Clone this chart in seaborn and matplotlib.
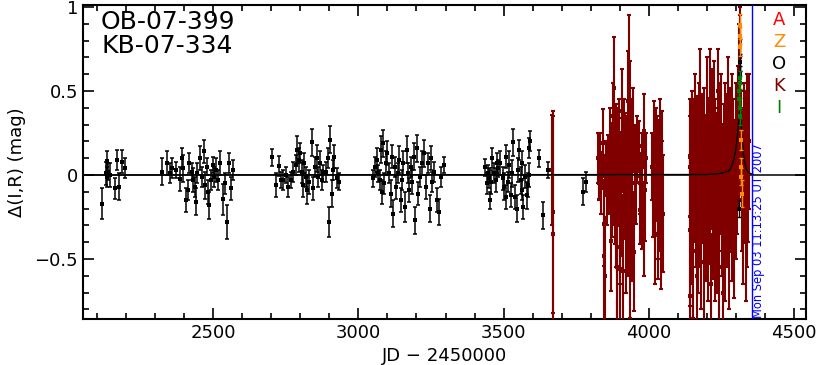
import pandas as pd
import seaborn as sns
import matplotlib
matplotlib.use("Agg")
import matplotlib.pyplot as plt
from matplotlib.ticker import MultipleLocator, FuncFormatter

# ---- OGLE (O, black) baseline seasons ----
ogle_jd = [2116, 2130, 2133, 2136, 2139, 2145, 2162, 2170, 2176, 2185, 2197,
           2325, 2342, 2352, 2360, 2372, 2386, 2392, 2397, 2407, 2412, 2418, 2426, 2432, 2437,
           2441, 2445, 2455, 2460, 2468, 2472, 2478, 2483, 2487, 2491, 2498, 2503, 2510, 2518,
           2524, 2533, 2541, 2547, 2556, 2563, 2567,
           2702, 2715, 2728, 2733, 2742, 2751, 2759, 2767, 2776, 2785, 2790, 2794, 2799, 2805,
           2810, 2814, 2820, 2824, 2831, 2839, 2845, 2851, 2856, 2862, 2868, 2874, 2879, 2887,
           2897, 2900, 2904, 2908, 2914, 2916, 2927, 2934,
           3050, 3057, 3063, 3069, 3075, 3077, 3081, 3084, 3088, 3095, 3099, 3104, 3111, 3116,
           3120, 3125, 3130, 3135, 3141, 3146, 3150, 3155, 3161, 3166, 3170, 3175, 3181, 3186,
           3191, 3196, 3201, 3205, 3212, 3219, 3226, 3232, 3241, 3245, 3250, 3255, 3260, 3272,
           3278, 3283, 3295,
           3436, 3442, 3447, 3451, 3453, 3457, 3461, 3467, 3474, 3476, 3482, 3488, 3497, 3503,
           3507, 3509, 3514, 3520, 3525, 3529, 3534, 3539, 3545, 3549, 3554, 3559, 3562, 3565,
           3568, 3574, 3580, 3583, 3587, 3589, 3591, 3623, 3637, 3654, 3775, 3784]
ogle_dmag = [-0.17, 0.01, 0.085, -0.01, 0.02, 0.0, -0.08, 0.09, -0.07, 0.08, 0.04,
             0.02, 0.07, 0.01, 0.04, 0.03, -0.025, 0.10, 0.04, -0.15, -0.09, 0.07, 0.02, -0.03, -0.07,
             -0.16, 0.01, 0.10, -0.01, 0.14, -0.06, 0.05, -0.10, -0.18, -0.03, 0.06, -0.01, 0.03, -0.03,
             0.07, -0.145, -0.05, -0.28, 0.07, -0.08, 0.03,
             0.105, -0.06, 0.054, -0.03, -0.03, 0.0, -0.07, -0.03, 0.02, 0.06, 0.15, 0.09, 0.13, 0.02,
             -0.06, 0.07, -0.01, -0.09, -0.04, 0.195, -0.08, 0.05, 0.10, -0.01, 0.07, -0.03, 0.01, 0.02,
             0.10, -0.28, 0.21, -0.11, 0.03, 0.11, -0.02, -0.04,
             -0.02, 0.05, 0.09, 0.01, -0.03, 0.15, -0.10, 0.19, -0.05, 0.07, 0.13, 0.01, -0.11, 0.11,
             -0.23, 0.05, -0.07, 0.01, 0.09, -0.15, -0.03, 0.07, -0.19, 0.15, 0.01, -0.09, 0.05, -0.04,
             0.11, -0.27, 0.16, -0.11, -0.01, 0.07, 0.13, -0.07, 0.07, -0.20, 0.10, -0.04, 0.02, -0.15,
             -0.22, -0.01, 0.06,
             0.045, -0.05, 0.01, -0.02, -0.15, -0.04, 0.10, 0.01, -0.03, 0.07, 0.04, 0.07, -0.02, -0.07,
             -0.13, 0.11, -0.04, 0.06, -0.12, 0.01, 0.195, -0.13, -0.20, 0.03, 0.15, -0.03, -0.09, 0.07,
             -0.19, -0.01, -0.12, -0.06, 0.16, 0.0, 0.20, 0.10, -0.24, 0.03, -0.10, -0.04]
ogle_err = [0.09, 0.07, 0.06, 0.06, 0.05, 0.07, 0.06, 0.06, 0.08, 0.07, 0.06,
            0.08, 0.07, 0.06, 0.06, 0.05, 0.07, 0.06, 0.08, 0.07, 0.06, 0.06, 0.05, 0.07, 0.06,
            0.08, 0.06, 0.07, 0.06, 0.07, 0.08, 0.05, 0.07, 0.08, 0.06, 0.05, 0.06, 0.07, 0.06,
            0.07, 0.09, 0.06, 0.10, 0.06, 0.07, 0.06,
            0.05, 0.07, 0.06, 0.05, 0.06, 0.05, 0.06, 0.05, 0.06, 0.06, 0.08, 0.07, 0.06, 0.07,
            0.07, 0.06, 0.06, 0.08, 0.07, 0.08, 0.07, 0.06, 0.08, 0.06, 0.07, 0.06, 0.05, 0.06,
            0.06, 0.09, 0.08, 0.08, 0.06, 0.07, 0.06, 0.05,
            0.05, 0.06, 0.07, 0.05, 0.06, 0.08, 0.07, 0.08, 0.06, 0.07, 0.07, 0.06, 0.08, 0.07,
            0.08, 0.06, 0.07, 0.06, 0.08, 0.07, 0.06, 0.07, 0.09, 0.08, 0.06, 0.07, 0.06, 0.07,
            0.08, 0.08, 0.08, 0.07, 0.06, 0.07, 0.08, 0.07, 0.06, 0.08, 0.07, 0.06, 0.06, 0.07,
            0.08, 0.06, 0.05,
            0.05, 0.06, 0.05, 0.06, 0.05, 0.07, 0.06, 0.06, 0.07, 0.06, 0.05, 0.07, 0.07, 0.08,
            0.07, 0.07, 0.06, 0.08, 0.07, 0.08, 0.08, 0.07, 0.08, 0.07, 0.06, 0.08, 0.06, 0.07,
            0.07, 0.07, 0.08, 0.07, 0.06, 0.07, 0.06, 0.05, 0.08, 0.05, 0.08, 0.06]

# OGLE points over the peak
ogle_peak_jd = [4312, 4313, 4314, 4315]
ogle_peak_dmag = [-0.20, 0.76, 0.67, 0.60]
ogle_peak_err = [0.05, 0.05, 0.05, 0.05]

# ---- K (dark red) seasons ----
kb_jd = [3668, 3669, 3670,
         3826, 3828, 3830, 3830, 3833, 3835, 3838, 3842, 3844, 3846, 3848, 3850, 3853, 3856,
         3860, 3863, 3866, 3869, 3870, 3872, 3874, 3876, 3878, 3880, 3882, 3884, 3886, 3888,
         3889, 3891, 3892, 3895, 3897, 3899, 3901, 3903, 3905, 3907, 3909, 3910, 3913, 3915,
         3918, 3920, 3922, 3924, 3926, 3927, 3929, 3931, 3933, 3935, 3936, 3937, 3939, 3941,
         3943, 3946, 3949, 3952, 3956, 3960, 3966, 3968, 3970, 3975, 3978, 3983, 3983, 3987,
         3990, 4012, 4015, 4018, 4020, 4021, 4021, 4024, 4027, 4030, 4033, 4035, 4038, 4040,
         4042, 4044, 4046, 4048,
         4140, 4140, 4140, 4143, 4145, 4147, 4149, 4151, 4153, 4155, 4157, 4159, 4161, 4163,
         4165, 4167, 4169, 4171, 4173, 4175, 4177, 4179, 4181, 4183, 4185, 4187, 4189, 4191,
         4193, 4195, 4197, 4199, 4201, 4203, 4205, 4207, 4209, 4211, 4213, 4215, 4217, 4219,
         4221, 4223, 4225, 4227, 4229, 4231, 4233, 4235, 4237, 4239, 4241, 4243, 4245, 4247,
         4249, 4251, 4253, 4255, 4257, 4259, 4261, 4263, 4265, 4267, 4269, 4271, 4273, 4275,
         4277, 4279, 4281, 4283, 4285, 4287, 4289, 4291, 4293, 4295, 4297, 4299, 4301, 4303,
         4305, 4307, 4309, 4311, 4313, 4315, 4317, 4319, 4321, 4323, 4325, 4327, 4329, 4331,
         4333, 4335, 4337, 4339, 4341, 4343, 4346]
kb_dmag = [0.03, -0.22, -0.35,
           0.10, -0.02, 0.06, -0.05, 0.13, -0.08, 0.02, 0.19, -0.29, -0.48, -0.60, 0.00, 0.05, -0.12,
           0.10, -0.03, 0.22, -0.39, 0.05, 0.13, -0.15, 0.35, -0.05, 0.52, 0.08, -0.11, 0.20, -0.25,
           -0.43, 0.15, -0.55, -0.02, 0.25, -0.30, -0.56, 0.05, -0.18, 0.38, 0.12, -0.57, -0.08, 0.20,
           0.09, -0.35, 0.00, -0.09, 0.15, 0.44, -0.20, 0.05, 0.65, 0.33, -0.40, 0.03, 0.20, -0.23,
           -0.05, 0.27, -0.46, 0.10, -0.01, 0.15, 0.17, -0.05, -0.21, -0.19, 0.05, 0.26, -0.32, -0.09,
           0.10, 0.05, -0.12, 0.19, -0.05, -0.11, -0.35, 0.12, 0.05, -0.20, -0.27, 0.08, -0.15, 0.25,
           -0.38, 0.10, -0.05, -0.23,
           0.105, -0.33, -0.72, 0.05, -0.10, 0.20, -0.25, 0.02, -0.45, 0.15, -0.05, 0.30, -0.15, 0.08,
           -0.60, 0.12, -0.30, 0.25, -0.02, -0.20, 0.40, 0.05, -0.40, 0.18, -0.08, 0.00, -0.52, 0.22,
           -0.12, 0.10, -0.28, 0.35, -0.05, 0.15, -0.35, 0.05, 0.45, -0.18, 0.12, -0.65, 0.28, -0.02,
           -0.22, 0.08, 0.38, -0.40, 0.15, -0.10, 0.02, -0.30, 0.50, 0.10, -0.15, -0.55, 0.20, -0.05,
           0.30, -0.25, 0.05, -0.70, 0.12, -0.12, 0.25, -0.35, 0.00, 0.18, -0.20, 0.40, -0.08, 0.10,
           -0.45, 0.22, -0.15, 0.05, -0.28, 0.30, -0.02, 0.15, -0.38, 0.08, -0.10, 0.25, -0.20, 0.12,
           -0.05, 0.35, 0.05, 0.55, 0.70, 0.80, 0.20, -0.15, 0.10, -0.30, 0.05, 0.25, -0.10, 0.15,
           -0.40, 0.00, 0.30, -0.20, 0.10, -0.05, 0.20]
kb_err = [0.33, 0.60, 0.70,
          0.15, 0.12, 0.10, 0.10, 0.12, 0.15, 0.10, 0.20, 0.25, 0.45, 0.35, 0.12, 0.15, 0.18,
          0.14, 0.20, 0.18, 0.30, 0.25, 0.18, 0.22, 0.20, 0.25, 0.30, 0.20, 0.30, 0.22, 0.30,
          0.45, 0.25, 0.40, 0.28, 0.20, 0.35, 0.40, 0.20, 0.30, 0.25, 0.22, 0.45, 0.30, 0.25,
          0.28, 0.35, 0.30, 0.35, 0.20, 0.30, 0.40, 0.25, 0.30, 0.35, 0.45, 0.30, 0.25, 0.40,
          0.30, 0.25, 0.35, 0.20, 0.28, 0.20, 0.15, 0.18, 0.20, 0.25, 0.20, 0.22, 0.28, 0.30,
          0.15, 0.20, 0.25, 0.25, 0.30, 0.25, 0.30, 0.28, 0.30, 0.30, 0.35, 0.25, 0.30, 0.20,
          0.30, 0.28, 0.25, 0.35,
          0.35, 0.45, 0.40, 0.30, 0.35, 0.30, 0.40, 0.30, 0.40, 0.30, 0.35, 0.30, 0.40, 0.30,
          0.35, 0.35, 0.40, 0.30, 0.30, 0.35, 0.35, 0.25, 0.40, 0.30, 0.30, 0.35, 0.35, 0.30,
          0.30, 0.25, 0.35, 0.35, 0.30, 0.30, 0.40, 0.30, 0.30, 0.35, 0.30, 0.30, 0.35, 0.30,
          0.40, 0.25, 0.30, 0.35, 0.30, 0.30, 0.35, 0.40, 0.25, 0.30, 0.30, 0.35, 0.35, 0.30,
          0.30, 0.35, 0.25, 0.30, 0.30, 0.35, 0.30, 0.40, 0.30, 0.30, 0.35, 0.30, 0.30, 0.25,
          0.35, 0.30, 0.30, 0.30, 0.35, 0.30, 0.25, 0.30, 0.35, 0.25, 0.30, 0.30, 0.30, 0.25,
          0.30, 0.30, 0.25, 0.35, 0.25, 0.20, 0.30, 0.30, 0.30, 0.35, 0.25, 0.30, 0.30, 0.35,
          0.35, 0.30, 0.30, 0.35, 0.30, 0.35, 0.40]

# ---- Z (orange) and I (green) near peak ----
z_jd = [4313, 4314, 4315, 4316, 4317, 4318, 4319]
z_dmag = [0.89, 0.83, 0.76, 0.21, 0.05, -0.01, -0.11]
z_err = [0.07, 0.05, 0.05, 0.06, 0.05, 0.05, 0.08]

i_jd = [4311, 4312, 4312.5, 4313, 4313.5, 4314]
i_dmag = [0.50, 0.45, 0.58, 0.40, 0.55, 0.35]
i_err = [0.05, 0.05, 0.04, 0.06, 0.04, 0.05]

# ---- model curve ----
model_jd = [2050, 4200, 4240, 4260, 4275, 4285, 4292, 4298, 4303, 4307, 4310, 4312, 4314,
            4316, 4318, 4321, 4325, 4330, 4336, 4342, 4350, 4360]
model_dmag = [0.0, 0.003, 0.008, 0.015, 0.025, 0.05, 0.09, 0.14, 0.20, 0.27, 0.33, 0.37, 0.40,
              0.36, 0.30, 0.22, 0.13, 0.07, 0.035, 0.018, 0.008, 0.004]

now_jd = 4354
legend_letters = ["A", "Z", "O", "K", "I"]
legend_colors = ["#ff0000", "#ff8c00", "#000000", "#800000", "#008000"]

sns.set_style("ticks")
plt.rcParams["font.family"] = ["DejaVu Sans"]
plt.rcParams.update({"text.color": "black", "axes.labelcolor": "black",
                     "xtick.color": "black", "ytick.color": "black",
                     "axes.edgecolor": "black"})

fig = plt.figure(figsize=(8.18, 3.65), dpi=100)
ax = fig.add_axes([83 / 818, 1 - 319 / 365, 723 / 818, 314 / 365])

ax.axhline(0, color="black", lw=1.1, zorder=1)


def plot_set(jd, dmag, err, color, z, lw=1.0, ms=9):
    df = pd.DataFrame({"jd": jd, "dmag": dmag, "err": err})
    ax.errorbar(df["jd"], df["dmag"], yerr=df["err"], fmt="none", ecolor=color,
                elinewidth=lw, capsize=1.6, capthick=lw, zorder=z)
    sns.scatterplot(data=df, x="jd", y="dmag", color=color, marker="s", s=ms,
                    linewidth=0, ax=ax, zorder=z + 0.1)


plot_set(ogle_jd, ogle_dmag, ogle_err, "black", 2, lw=1.1, ms=10)
plot_set(kb_jd, kb_dmag, kb_err, "#800000", 3, lw=1.5, ms=12)
sns.lineplot(x=model_jd, y=model_dmag, color="black", lw=1.0, ax=ax, zorder=4,
             estimator=None, sort=False)
plot_set(ogle_peak_jd, ogle_peak_dmag, ogle_peak_err, "black", 5)
plot_set(z_jd, z_dmag, z_err, "#ff8c00", 5)
plot_set(i_jd, i_dmag, i_err, "#008000", 6)

ax.axvline(now_jd, color="#0000ff", lw=1.0, zorder=7)
ax.text(now_jd + 24, -0.85, "Mon Sep 03 11:13:25 UT 2007", rotation=90,
        color="#0000ff", fontsize=8.3, ha="center", va="bottom", zorder=8)

ax.set_xlim(2052, 4541)
ax.set_ylim(-0.857, 1.012)
ax.xaxis.set_major_locator(MultipleLocator(500))
ax.xaxis.set_minor_locator(MultipleLocator(100))
ax.yaxis.set_major_locator(MultipleLocator(0.5))
ax.yaxis.set_minor_locator(MultipleLocator(0.1))
ax.yaxis.set_major_formatter(FuncFormatter(lambda v, p: ("%g" % v).replace("-", "\u2212")))
ax.tick_params(which="both", direction="in", top=True, right=True, width=1.2, labelsize=13)
ax.tick_params(which="major", length=8)
ax.tick_params(which="minor", length=4.5)
for sp in ax.spines.values():
    sp.set_linewidth(1.5)

ax.set_xlabel("JD \u2212 2450000", fontsize=13, labelpad=4)
ax.set_ylabel("\u0394(I,R) (mag)", fontsize=13, labelpad=6)

ax.text(0.025, 0.945, "OB-07-399", transform=ax.transAxes, fontsize=18, va="center")
ax.text(0.025, 0.868, "KB-07-334", transform=ax.transAxes, fontsize=18, va="center")

for k, (lab, col) in enumerate(zip(legend_letters, legend_colors)):
    ax.text(0.963, 0.952 - k * 0.07, lab, transform=ax.transAxes, color=col,
            fontsize=13, ha="center", va="center", zorder=9)

fig.savefig("out.png", dpi=100)
